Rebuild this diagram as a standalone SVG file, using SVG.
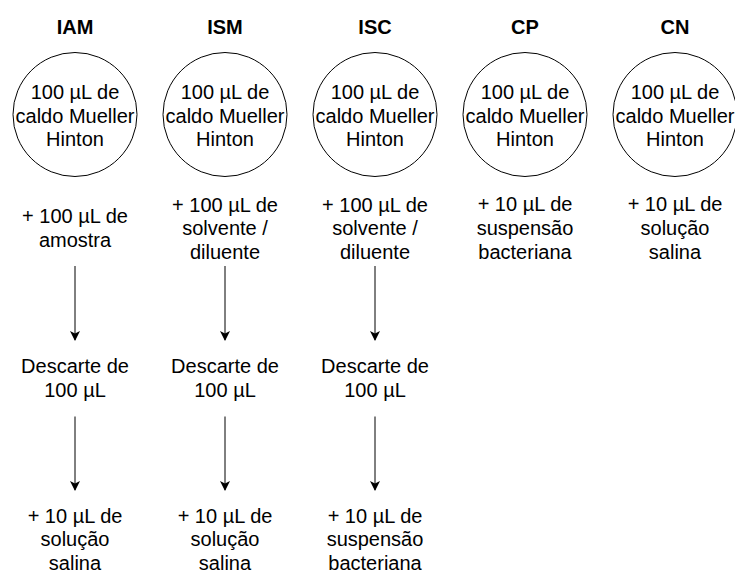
<svg xmlns="http://www.w3.org/2000/svg" width="735" height="573" viewBox="0 0 735 573">
<style>
text{font-family:"Liberation Sans",Arial,sans-serif;font-size:20px;fill:#000;text-anchor:middle}
.t{font-weight:bold}
.c{fill:#fff;stroke:#000;stroke-width:1}
.e{stroke:#000;stroke-width:1;fill:none}
</style>
<defs>
<marker id="ah" viewBox="0 0 10 10" refX="9" refY="5" markerWidth="10" markerHeight="10" markerUnits="userSpaceOnUse" orient="auto">
<path d="M0,0 L10,5 L0,10 L2.5,5 Z" fill="#000"/>
</marker>
</defs>
<rect width="735" height="573" fill="#fff"/>
<g id="IAM">
<text class="t" x="75" y="34">IAM</text>
<circle class="c" cx="75" cy="114.5" r="62"/>
<text x="75" y="99">100 µL de</text><text x="75" y="122.5">caldo Mueller</text><text x="75" y="146">Hinton</text>
</g>
<g id="ISM">
<text class="t" x="225" y="34">ISM</text>
<circle class="c" cx="225" cy="114.5" r="62"/>
<text x="225" y="99">100 µL de</text><text x="225" y="122.5">caldo Mueller</text><text x="225" y="146">Hinton</text>
</g>
<g id="ISC">
<text class="t" x="375" y="34">ISC</text>
<circle class="c" cx="375" cy="114.5" r="62"/>
<text x="375" y="99">100 µL de</text><text x="375" y="122.5">caldo Mueller</text><text x="375" y="146">Hinton</text>
</g>
<g id="CP">
<text class="t" x="525" y="34">CP</text>
<circle class="c" cx="525" cy="114.5" r="62"/>
<text x="525" y="99">100 µL de</text><text x="525" y="122.5">caldo Mueller</text><text x="525" y="146">Hinton</text>
</g>
<g id="CN">
<text class="t" x="675" y="34">CN</text>
<circle class="c" cx="675" cy="114.5" r="62"/>
<text x="675" y="99">100 µL de</text><text x="675" y="122.5">caldo Mueller</text><text x="675" y="146">Hinton</text>
</g>
<g id="IAM-add"><text x="75" y="223.3">+ 100 µL de</text><text x="75" y="247.3">amostra</text></g>
<g id="ISM-add"><text x="225" y="211.5">+ 100 µL de</text><text x="225" y="235.3">solvente /</text><text x="225" y="259.1">diluente</text></g>
<g id="ISC-add"><text x="375" y="211.5">+ 100 µL de</text><text x="375" y="235.3">solvente /</text><text x="375" y="259.1">diluente</text></g>
<g id="CP-add"><text x="525" y="211">+ 10 µL de</text><text x="525" y="234.8">suspensão</text><text x="525" y="258.6">bacteriana</text></g>
<g id="CN-add"><text x="675" y="211">+ 10 µL de</text><text x="675" y="234.8">solução</text><text x="675" y="258.6">salina</text></g>
<g id="IAM-desc"><text x="75" y="373.3">Descarte de</text><text x="75" y="397">100 µL</text></g>
<g id="ISM-desc"><text x="225" y="373.3">Descarte de</text><text x="225" y="397">100 µL</text></g>
<g id="ISC-desc"><text x="375" y="373.3">Descarte de</text><text x="375" y="397">100 µL</text></g>
<g id="IAM-final"><text x="75" y="522.5">+ 10 µL de</text><text x="75" y="546">solução</text><text x="75" y="569.5">salina</text></g>
<g id="ISM-final"><text x="225" y="522.5">+ 10 µL de</text><text x="225" y="546">solução</text><text x="225" y="569.5">salina</text></g>
<g id="ISC-final"><text x="375" y="522.5">+ 10 µL de</text><text x="375" y="546">suspensão</text><text x="375" y="569.5">bacteriana</text></g>
<g id="connectors">
<line class="e" x1="75" y1="266" x2="75" y2="340" marker-end="url(#ah)"/>
<line class="e" x1="225" y1="266" x2="225" y2="340" marker-end="url(#ah)"/>
<line class="e" x1="375" y1="266" x2="375" y2="340" marker-end="url(#ah)"/>
<line class="e" x1="75" y1="416.5" x2="75" y2="490" marker-end="url(#ah)"/>
<line class="e" x1="225" y1="416.5" x2="225" y2="490" marker-end="url(#ah)"/>
<line class="e" x1="375" y1="416.5" x2="375" y2="490" marker-end="url(#ah)"/>
</g>
</svg>
